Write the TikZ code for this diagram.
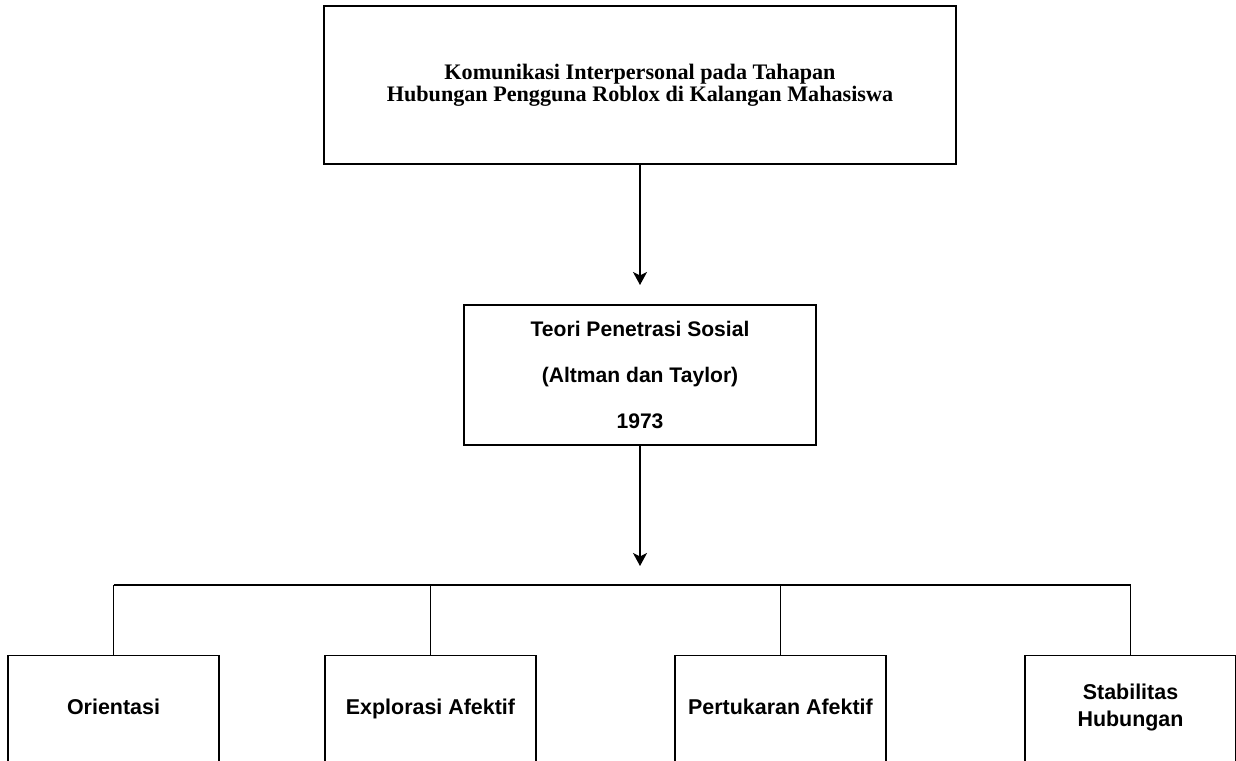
\documentclass[tikz,border=0pt]{standalone}
\usepackage{fontspec}
\setmainfont{Liberation Sans}
\newfontfamily\titleserif{Liberation Serif}
\usetikzlibrary{arrows.meta}
\usetikzlibrary{positioning}

\begin{document}
\begin{tikzpicture}[x=0.02cm, y={(0cm,-0.02cm)}, line width=0.8pt,
  box/.style={draw, line width=0.8pt, align=center, inner sep=0pt},
  arrow/.style={-{Stealth[length=2.6mm, width=2.8mm, inset=0.7mm]}}]
  \useasboundingbox (0,0) rectangle (1236,760);

  \node [box, minimum width=12.64cm, minimum height=3.16cm,
    font=\titleserif\bfseries\fontsize{12.6}{11.4}\selectfont] (topic) at (640,85)
    {Komunikasi Interpersonal pada Tahapan\\Hubungan Pengguna Roblox di Kalangan Mahasiswa};
  \node [box, minimum width=7.04cm, minimum height=2.8cm,
    font=\bfseries\fontsize{12}{26}\selectfont] (theory) at (640,375)
    {Teori Penetrasi Sosial\\(Altman dan Taylor)\\1973};

  \coordinate (tip1) at (640,285);
  \coordinate (tip2) at (640,566);
  \coordinate (bus) at (640,585);
  \draw [arrow] (topic.south) -- (tip1);
  \draw [arrow] (theory.south) -- (tip2);

  \begin{scope}[every node/.style={box, minimum width=4.22cm, minimum height=2.14cm, anchor=north,
      font=\bfseries\fontsize{12.2}{15.5}\selectfont,
      execute at begin node=\strut, execute at end node=\strut}]
    \node (orient) at (113.5,655) {Orientasi};
    \node (explore) at (430.5,655) {Explorasi Afektif};
    \node (exchange) at (780.5,655) {Pertukaran Afektif};
    \node (stable) at (1130.5,655) {Stabilitas\\Hubungan};
  \end{scope}

  \draw (orient.north |- bus) -- (stable.north |- bus);
  \foreach \n in {orient, explore, exchange, stable}
    \draw (\n.north) -- (\n.north |- bus);

\end{tikzpicture}
\end{document}
